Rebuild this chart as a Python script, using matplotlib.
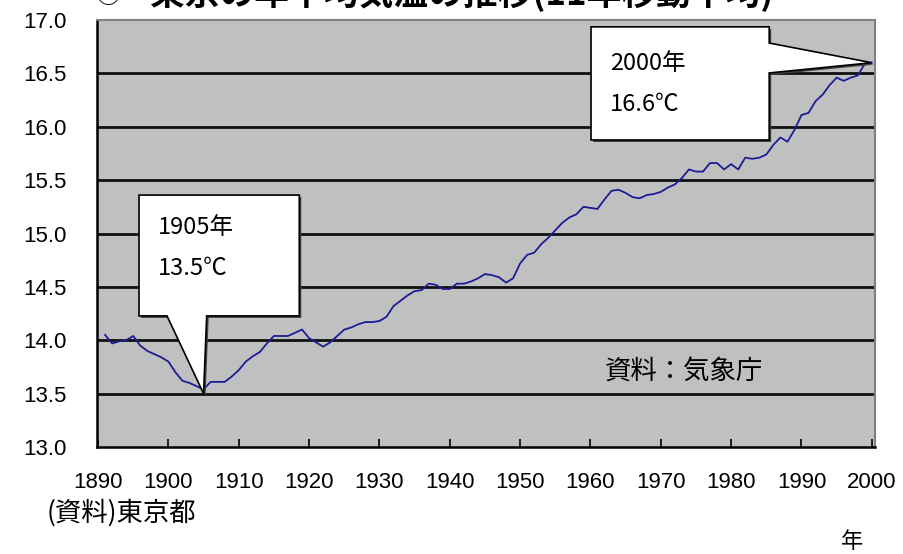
import numpy as np
import matplotlib
matplotlib.use('Agg')
import matplotlib.pyplot as plt
from matplotlib.patches import Polygon
import matplotlib.transforms as mtransforms

plt.rcParams['font.family'] = ['Liberation Sans', 'Noto Sans CJK JP', 'DejaVu Sans']

# 東京の年平均気温 (11年移動平均), 図から読み取った値
years = list(range(1891, 2001))
temps = [
    14.05, 13.97, 13.99, 14.00, 14.04, 13.95, 13.90, 13.87, 13.84, 13.80,  # 1891-1900
    13.70, 13.62, 13.60, 13.57, 13.54, 13.61, 13.61, 13.61, 13.66, 13.72,  # 1901-1910
    13.80, 13.85, 13.89, 13.97, 14.04, 14.04, 14.04, 14.07, 14.10, 14.02,  # 1911-1920
    13.98, 13.94, 13.98, 14.04, 14.10, 14.12, 14.15, 14.17, 14.17, 14.18,  # 1921-1930
    14.22, 14.32, 14.37, 14.42, 14.46, 14.47, 14.53, 14.52, 14.48, 14.48,  # 1931-1940
    14.53, 14.53, 14.55, 14.58, 14.62, 14.61, 14.59, 14.54, 14.58, 14.72,  # 1941-1950
    14.80, 14.82, 14.90, 14.96, 15.03, 15.10, 15.15, 15.18, 15.25, 15.24,  # 1951-1960
    15.23, 15.32, 15.40, 15.41, 15.38, 15.34, 15.33, 15.36, 15.37, 15.39,  # 1961-1970
    15.43, 15.46, 15.52, 15.60, 15.58, 15.58, 15.66, 15.66, 15.60, 15.65,  # 1971-1980
    15.60, 15.71, 15.70, 15.71, 15.74, 15.83, 15.90, 15.86, 15.97, 16.11,  # 1981-1990
    16.13, 16.24, 16.30, 16.39, 16.46, 16.43, 16.46, 16.48, 16.59, 16.60,  # 1991-2000
]

y_ticks = [13.0, 13.5, 14.0, 14.5, 15.0, 15.5, 16.0, 16.5, 17.0]
x_ticks = list(range(1890, 2001, 10))

callout_years = [1905, 2000]
callout_temps = [13.5, 16.6]
callout_labels = ['1905年\n13.5℃', '2000年\n16.6℃']

fig = plt.figure(figsize=(9.04, 5.54), dpi=100)
ax = fig.add_axes([97 / 904, 107 / 554, 778 / 904, 427 / 554])
ax.set_facecolor('#c0c0c0')

ax.set_xlim(1889.85, 2000.45)
ax.set_ylim(13.0, 17.0)

# 横グリッド
for v in y_ticks[1:-1]:
    ax.axhline(v, color='#101010', lw=2.0, zorder=1)

ax.plot(years, temps, color='#1c1c96', lw=1.3, zorder=2)

ax.set_yticks(y_ticks)
ax.set_yticklabels([f'{v:.1f}' for v in y_ticks], fontsize=16)
ax.set_xticks(x_ticks)
ax.set_xticklabels([str(v) for v in x_ticks], fontsize=16)
ax.tick_params(axis='y', length=0, pad=22)
for lab in ax.get_yticklabels():
    lab.set_verticalalignment('center_baseline')
ax.tick_params(axis='x', direction='in', length=6, width=1.2, pad=18)

for side in ['left', 'bottom']:
    ax.spines[side].set_color('black')
    ax.spines[side].set_linewidth(1.8)
for side in ['top', 'right']:
    ax.spines[side].set_color('#808080')
    ax.spines[side].set_linewidth(1.5)

# 吹き出し
def to_axes(x, y):
    p = ax.transData.transform((x, y))
    return ax.transAxes.inverted().transform(p)

tip1 = to_axes(callout_years[0], callout_temps[0])
tip2 = to_axes(callout_years[1], callout_temps[1])

box1 = [(0.054, 0.590), (0.260, 0.590), (0.260, 0.307), (0.141, 0.307),
        tuple(tip1), (0.090, 0.307), (0.054, 0.307)]
box2 = [(0.635, 0.984), (0.864, 0.984), (0.864, 0.946), tuple(tip2),
        (0.864, 0.876), (0.864, 0.719), (0.635, 0.719)]

shadow = ax.transAxes + mtransforms.ScaledTranslation(2 / 100, -2 / 100, fig.dpi_scale_trans)
for verts in [box1, box2]:
    ax.add_patch(Polygon(verts, closed=True, facecolor='#404040', edgecolor='none',
                         transform=shadow, zorder=3, clip_on=False))
    ax.add_patch(Polygon(verts, closed=True, facecolor='white', edgecolor='black',
                         lw=1.2, transform=ax.transAxes, zorder=4, clip_on=False))

text_pos = [(0.078, 0.540), (0.659, 0.924)]
for (tx, ty), label in zip(text_pos, callout_labels):
    ax.text(tx, ty, label, transform=ax.transAxes, fontsize=17, va='top',
            ha='left', linespacing=1.95, family=['Noto Sans CJK JP'], zorder=5)

ax.text(0.653, 0.176, '資料：気象庁', transform=ax.transAxes, fontsize=19,
        va='center', ha='left', family=['Noto Sans CJK JP'], zorder=5)

# 図の外の文字 (上の表題は参照図と同じく上端で切れている)
fig.text(108 / 904, 1 + 4 / 554, '○', fontsize=18, va='center', ha='center',
         family=['Noto Sans CJK JP'])
fig.text(150 / 904, 1 + 6 / 554, '東京の年平均気温の推移(11年移動平均)', fontsize=25,
         fontweight='bold', va='center', ha='left', family=['Noto Sans CJK JP'])
fig.text(47 / 904, 1 - 513 / 554, '(資料)東京都', fontsize=19, va='center', ha='left',
         family=['Noto Sans CJK JP'])
fig.text(852 / 904, 1 - 542 / 554, '年', fontsize=16, va='center', ha='center',
         family=['Noto Sans CJK JP'])

fig.savefig('out.png', dpi=100, facecolor='white')
